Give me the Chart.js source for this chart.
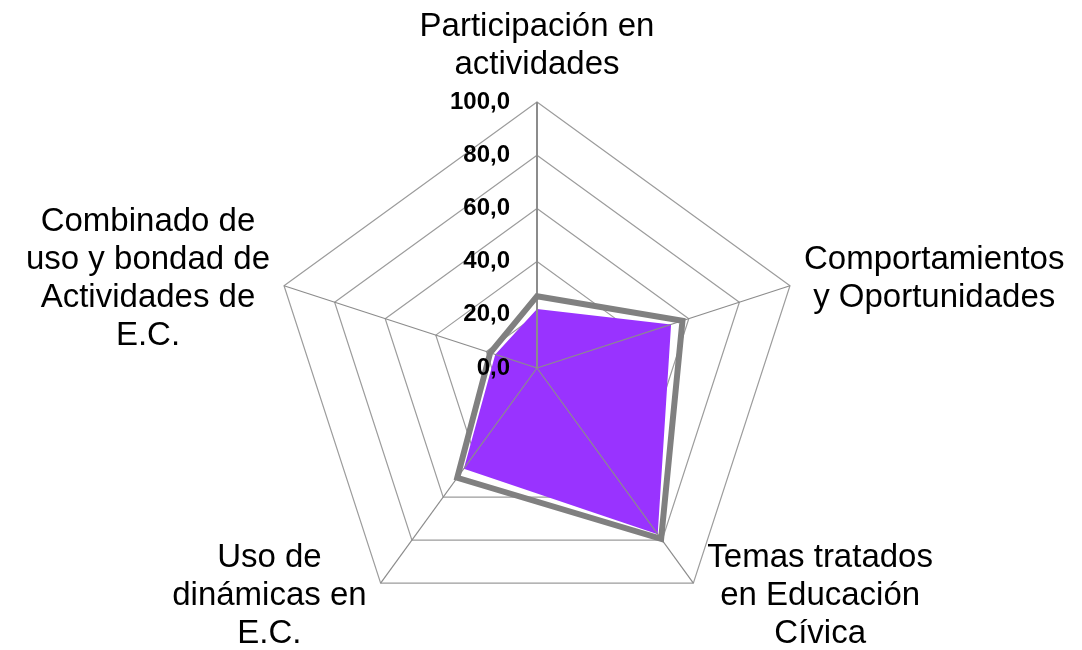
<!DOCTYPE html>
<html><head><meta charset="utf-8">
<script src="https://cdn.jsdelivr.net/npm/chart.js@4"></script>
<style>html,body{margin:0;padding:0;background:#fff}#wrap{width:1082px;height:650px;position:relative}</style>
</head><body><div id="wrap"><canvas id="c"></canvas></div>
<script>
const categories = [
  ['Participación en', 'actividades'],
  ['Comportamientos', 'y Oportunidades'],
  ['Temas tratados', 'en Educación', 'Cívica'],
  ['Uso de', 'dinámicas en', 'E.C.'],
  ['Combinado de', 'uso y bondad de', 'Actividades de', 'E.C.']
];
const serieGris = [27.0, 57.5, 79.4, 51.0, 18.5];
const serieMorada = [22.2, 53.0, 77.2, 46.8, 16.5];
const tickValues = [0, 20, 40, 60, 80, 100];
const tickLabels = ['0,0', '20,0', '40,0', '60,0', '80,0', '100,0'];

const FONT = '"Liberation Sans", Arial, sans-serif';

const customPlugin = {
  id: 'customDraw',
  afterDatasetDraw(chart, args) {
    if (args.index !== 1) return;
    const s = chart.scales.r;
    const ctx = chart.ctx;
    const pts = chart.getDatasetMeta(1).data;
    ctx.save();
    ctx.beginPath();
    pts.forEach((p, i) => { if (i === 0) ctx.moveTo(p.x, p.y); else ctx.lineTo(p.x, p.y); });
    ctx.closePath();
    ctx.clip();
    categories.forEach((_, i) => {
      const p = s.getPointPositionForValue(i, s.max);
      ctx.beginPath();
      ctx.moveTo(s.xCenter, s.yCenter);
      ctx.lineTo(p.x, p.y);
      ctx.strokeStyle = '#8c8c8c';
      ctx.lineWidth = i === 0 ? 2 : 1.2;
      ctx.stroke();
    });
    ctx.restore();
  },
  afterDraw(chart) {
    const s = chart.scales.r;
    const ctx = chart.ctx;
    ctx.save();
    ctx.font = 'bold 24px ' + FONT;
    ctx.fillStyle = '#000';
    ctx.textAlign = 'right';
    ctx.textBaseline = 'middle';
    tickValues.forEach((v, k) => {
      const r = s.getDistanceFromCenterForValue(v);
      ctx.fillText(tickLabels[k], s.xCenter - 27, s.yCenter - r);
    });
    ctx.font = '33px ' + FONT;
    ctx.textAlign = 'center';
    ctx.textBaseline = 'alphabetic';
    const LH = 38;
    const capHalf = 11.8;
    categories.forEach((lines, i) => {
      const a = s.getIndexAngle(i);
      const p = s.getPointPositionForValue(i, s.max);
      const sn = Math.sin(a), cs = Math.cos(a);
      const bw = Math.max(...lines.map(l => ctx.measureText(l).width));
      const n = lines.length;
      if (Math.abs(sn) < 0.01) {
        const last = p.y - 28;
        lines.forEach((l, j) => ctx.fillText(l, p.x, last - (n - 1 - j) * LH));
      } else {
        const cx = sn > 0 ? p.x + 14 + bw / 2 : p.x - 14 - bw / 2;
        const midY = p.y - 4 - 17 * cs;
        lines.forEach((l, j) => ctx.fillText(l, cx, midY + (j - (n - 1) / 2) * LH + capHalf));
      }
    });
    ctx.restore();
  }
};

new Chart(document.getElementById('c'), {
  type: 'radar',
  data: {
    labels: categories,
    datasets: [
      {
        label: 'Serie 2',
        data: serieGris,
        borderColor: '#808080',
        borderWidth: 6,
        backgroundColor: 'rgba(0,0,0,0)',
        fill: false,
        pointRadius: 0,
        pointHoverRadius: 0,
        borderJoinStyle: 'miter'
      },
      {
        label: 'Serie 1',
        data: serieMorada,
        borderWidth: 0,
        borderColor: 'rgba(0,0,0,0)',
        backgroundColor: '#9933FF',
        fill: true,
        pointRadius: 0,
        pointHoverRadius: 0
      }
    ]
  },
  options: {
    responsive: true,
    maintainAspectRatio: false,
    animation: false,
    layout: { padding: { top: 102, bottom: 16, left: 267, right: 275 } },
    plugins: { legend: { display: false }, tooltip: { enabled: false } },
    scales: {
      r: {
        min: 0,
        max: 100,
        ticks: { display: false, stepSize: 20 },
        grid: { color: '#9c9c9c', lineWidth: 1.2 },
        angleLines: { color: '#8c8c8c', lineWidth: c => (c.index === 0 ? 2 : 1.2) },
        pointLabels: { display: false }
      }
    }
  },
  plugins: [customPlugin]
});
</script>
</body></html>
